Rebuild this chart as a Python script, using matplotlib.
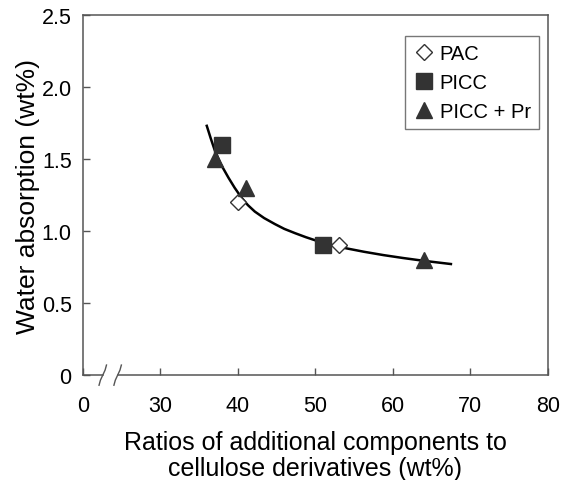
import matplotlib
matplotlib.use("Agg")
import matplotlib.pyplot as plt

plt.rcParams['font.family'] = ['Liberation Sans', 'DejaVu Sans']

# data (x axis is broken: the "0" tick sits where 20 would be)
pac_x = [40, 53]
pac_y = [1.2, 0.9]
picc_x = [38, 51]
picc_y = [1.6, 0.9]
pr_x = [37, 41, 64]
pr_y = [1.5, 1.3, 0.8]

# fitted curve, points
fit_x = [36.0, 36.5, 37.0, 37.8, 38.8, 39.6, 40.5, 41.3, 42.2, 43.4, 44.8,
         46.0, 47.4, 48.8, 50.2, 52.0, 54.0, 56.3, 58.8, 61.3, 63.9, 67.5]
fit_y = [1.73, 1.645, 1.565, 1.465, 1.37, 1.30, 1.23, 1.18, 1.135, 1.09, 1.048,
         1.015, 0.985, 0.957, 0.932, 0.905, 0.880, 0.856, 0.833, 0.813, 0.794, 0.771]

xticks = [20, 30, 40, 50, 60, 70, 80]
xtick_labels = ['0', '30', '40', '50', '60', '70', '80']
yticks = [0, 0.5, 1.0, 1.5, 2.0, 2.5]
ytick_labels = ['0', '0.5', '1.0', '1.5', '2.0', '2.5']

mark = '#333333'
spine = '#555555'

fig = plt.figure(figsize=(5.63, 4.81), dpi=100)
ax = fig.add_axes([0.147, 0.218, 0.826, 0.749])

ax.plot(fit_x, fit_y, color='black', lw=1.8, zorder=2)
ax.plot(pac_x, pac_y, 'D', ms=8.5, mfc='white', mec=mark, mew=1.0,
        ls='none', label='PAC', zorder=3)
ax.plot(picc_x, picc_y, 's', ms=11.5, color=mark, ls='none',
        label='PICC', zorder=3)
ax.plot(pr_x, pr_y, '^', ms=11.5, color=mark, ls='none',
        label='PICC + Pr', zorder=3)

ax.set_xlim(20, 80)
ax.set_ylim(0, 2.5)
ax.set_xticks(xticks)
ax.set_xticklabels(xtick_labels)
ax.set_yticks(yticks)
ax.set_yticklabels(ytick_labels)
ax.tick_params(direction='in', length=5, width=1, color=spine, labelsize=15.5)
ax.tick_params(axis='x', pad=14)
ax.tick_params(axis='y', pad=8)

for s in ax.spines.values():
    s.set_color(spine)
    s.set_linewidth(1.1)

# broken bottom axis
ax.spines['bottom'].set_visible(False)
tr = ax.transAxes
b1, b2 = 0.043, 0.075
ax.plot([0, b1], [0, 0], color=spine, lw=1.1, transform=tr, clip_on=False)
ax.plot([b2, 1], [0, 0], color=spine, lw=1.1, transform=tr, clip_on=False)
for bx in (b1, b2):
    ax.plot([bx - 0.008, bx - 0.005, bx + 0.005, bx + 0.008],
            [-0.028, -0.014, 0.014, 0.028],
            color=spine, lw=1.0, transform=tr, clip_on=False)

ax.set_ylabel('Water absorption (wt%)', fontsize=19)
ax.yaxis.set_label_coords(-0.0925, 0.5)
ax.set_xlabel('Ratios of additional components to\ncellulose derivatives (wt%)',
              fontsize=18, linespacing=1.1)
ax.xaxis.set_label_coords(0.5, -0.153)

leg = ax.legend(loc='upper right', fontsize=14.5, frameon=True, fancybox=False,
                edgecolor=spine, handletextpad=0.25, handlelength=1.1,
                borderpad=0.4, labelspacing=0.5, borderaxespad=0,
                bbox_to_anchor=(0.981, 0.942))
leg.get_frame().set_linewidth(1.0)

fig.savefig('out.png', dpi=100)
